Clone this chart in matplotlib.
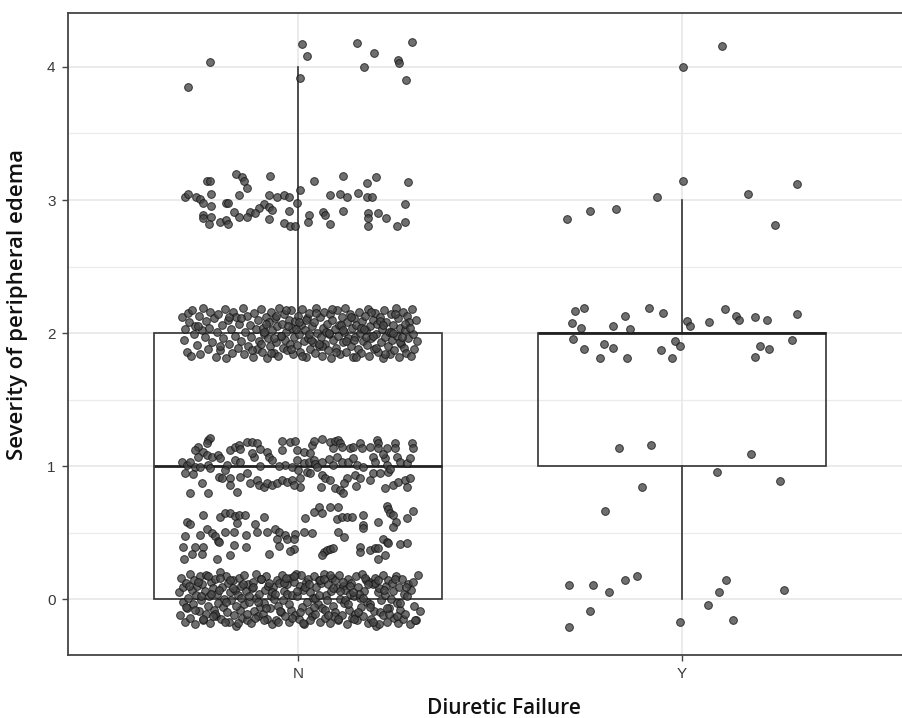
import matplotlib
matplotlib.use("Agg")
import matplotlib.pyplot as plt
import numpy as np

# ---------------- data ----------------
groups = ["N", "Y"]
box_q1 = [0, 1]
box_med = [1, 2]
box_q3 = [2, 2]
whisk_lo = [0, 0]
whisk_hi = [4, 3]
box_width = 0.75

# Group N jittered points (x offset from group centre, y value)
n_x4 = [-0.286, -0.229, 0.010, 0.005, 0.023, 0.154, 0.172, 0.198, 0.260, 0.263, 0.281, 0.297]
n_y4 = [3.852, 4.035, 4.173, 3.917, 4.083, 4.180, 4.000, 4.105, 4.053, 4.030, 3.902, 4.188]

n_x3 = [-0.238, -0.230, -0.161, -0.147, -0.140, -0.134, -0.073, -0.294, -0.288, -0.266, -0.255, -0.227,
        -0.247, -0.227, -0.188, -0.182, -0.153, -0.077, -0.055, -0.038, -0.025, -0.003, 0.005, -0.090,
        -0.103, -0.077, -0.068, -0.125, -0.112, -0.168, -0.155, -0.134, -0.248, -0.247, -0.227, -0.205,
        -0.188, -0.184, -0.232, -0.077, -0.023, -0.038, -0.021, -0.008, 0.027, 0.025, 0.042, 0.064,
        0.070, 0.082, 0.083, 0.108, 0.128, 0.116, 0.116, 0.155, 0.180, 0.203, 0.179, 0.192, 0.183,
        0.183, 0.208, 0.183, 0.228, 0.257, 0.279, 0.279, 0.286]
n_y3 = [3.145, 3.145, 3.199, 3.175, 3.145, 3.090, 3.180, 3.025, 3.043, 3.025, 3.005, 3.045,
        2.975, 2.955, 2.975, 2.975, 3.035, 3.035, 3.020, 3.035, 3.020, 2.975, 3.075, 2.968,
        2.938, 2.945, 2.925, 2.912, 2.900, 2.912, 2.874, 2.870, 2.887, 2.862, 2.874, 2.837,
        2.850, 2.817, 2.820, 2.857, 2.917, 2.829, 2.807, 2.807, 2.887, 2.837, 3.145, 2.912,
        2.887, 2.820, 3.035, 3.045, 3.020, 3.180, 2.917, 3.055, 3.126, 3.171, 3.020, 3.020, 2.900,
        2.862, 2.900, 2.807, 2.862, 2.807, 2.837, 2.968, 3.135]

n_x2 = [-0.302, -0.298, -0.295, -0.291, -0.288,
        -0.284, -0.279, -0.276, -0.272, -0.268,
        -0.263, -0.259, -0.255, -0.251, -0.247,
        -0.244, -0.240, -0.236, -0.232, -0.229,
        -0.224, -0.219, -0.215, -0.212, -0.208,
        -0.204, -0.199, -0.196, -0.192, -0.188,
        -0.184, -0.180, -0.176, -0.173, -0.169,
        -0.165, -0.161, -0.157, -0.153, -0.149,
        -0.145, -0.141, -0.138, -0.134, -0.130,
        -0.126, -0.122, -0.118, -0.114, -0.111, -0.108,
        -0.104, -0.101, -0.097, -0.094, -0.091, -0.088, -0.085, -0.082,
        -0.079, -0.076, -0.073, -0.070, -0.067, -0.064, -0.061, -0.058,
        -0.055, -0.052, -0.049, -0.046, -0.043, -0.040, -0.037, -0.034,
        -0.031, -0.028, -0.025, -0.022, -0.019, -0.016, -0.013, -0.010,
        -0.007, -0.004, -0.001, 0.002, 0.005, 0.008, 0.011, 0.014,
        0.017, 0.020, 0.023, 0.026, 0.029, 0.032, 0.035, 0.038,
        0.041, 0.044, 0.047, 0.050, 0.053, 0.056, 0.059, 0.062,
        0.065, 0.068, 0.071, 0.074, 0.077, 0.080, 0.083, 0.086,
        0.089, 0.092, 0.095, 0.098, 0.101, 0.104, 0.107, 0.110,
        0.113, 0.116, 0.119, 0.122, 0.125, 0.128, 0.131, 0.134,
        0.137, 0.140, 0.143, 0.146, 0.149, 0.152, 0.155, 0.158,
        0.161, 0.164, 0.167, 0.170, 0.173, 0.176, 0.179, 0.182,
        0.185, 0.188, 0.191, 0.194, 0.197, 0.200, 0.203, 0.206,
        0.209, 0.212, 0.215, 0.218, 0.221, 0.224, 0.227, 0.230,
        0.233, 0.236, 0.239, 0.242, 0.245, 0.248, 0.251, 0.254,
        0.257, 0.260, 0.263, 0.266, 0.269, 0.272, 0.275, 0.278,
        0.281, 0.284, 0.287, 0.290, 0.293, 0.296, 0.299, 0.302,
        0.306, 0.310,
        -0.096, -0.083, -0.071, -0.059, -0.044, -0.032, -0.018, -0.006, 0.009, 0.021,
        0.034, 0.046, 0.061, 0.073, 0.087, 0.099, 0.112, 0.124, 0.138, 0.151,
        0.163, 0.176, 0.189, 0.202, 0.214, 0.227, 0.241, 0.253, 0.266, 0.279,
        -0.090, -0.062, -0.027, 0.003, 0.028, 0.055, 0.081, 0.118, 0.145, 0.171,
        0.196, 0.222, 0.247, 0.271, 0.292, -0.150, -0.205, -0.262, -0.120, -0.180]
n_y2 = [2.12, 1.95, 2.03, 1.86, 2.15,
        2.08, 1.83, 2.17, 1.99, 2.05,
        1.91, 2.13, 1.84, 2.02, 2.19,
        1.97, 2.09, 1.88, 2.04, 2.16,
        1.93, 2.11, 1.82, 2.01, 2.14,
        1.87, 2.06, 1.96, 2.18, 1.81,
        2.10, 1.92, 2.03, 1.85, 2.16,
        1.98, 2.12, 1.89, 2.07, 1.94,
        2.19, 1.84, 2.01, 2.13, 1.90,
        2.06, 1.97, 1.82, 2.15, 2.03, 1.88,
        2.10, 1.94, 2.18, 1.86, 2.04, 1.99, 2.12, 1.81,
        1.96, 2.08, 1.90, 2.16, 2.02, 1.85, 2.11, 1.93,
        2.05, 1.83, 2.19, 1.98, 2.07, 1.89, 2.14, 1.95,
        2.01, 1.87, 2.10, 1.92, 2.17, 2.04, 1.84, 1.97,
        2.09, 1.91, 2.13, 1.99, 1.86, 2.06, 2.18, 1.94,
        2.02, 1.82, 2.11, 1.96, 2.15, 1.88, 2.05, 1.93,
        2.08, 1.85, 2.19, 2.00, 1.90, 2.12, 1.97, 1.83,
        2.04, 2.16, 1.92, 2.07, 1.87, 1.99, 2.14, 1.81,
        2.10, 1.95, 2.03, 1.89, 2.17, 1.98, 2.06, 1.84,
        2.12, 1.93, 2.01, 2.19, 1.86, 2.08, 1.96, 2.14,
        1.90, 2.04, 1.82, 2.11, 1.97, 2.06, 1.88, 2.16,
        2.00, 1.85, 2.09, 1.94, 2.13, 2.02, 1.91, 2.18,
        1.83, 2.05, 1.96, 2.10, 1.88, 2.15, 1.99, 2.07,
        1.86, 2.12, 1.93, 2.03, 1.81, 2.17, 1.97, 2.08,
        1.90, 2.01, 1.84, 2.14, 1.95, 2.06, 1.87, 2.19,
        1.98, 2.11, 1.82, 2.04, 1.92, 2.16, 1.89, 2.02,
        1.85, 2.13, 1.96, 2.08, 1.83, 2.18, 1.99, 1.88,
        2.10, 1.94,
        1.92, 2.07, 1.85, 2.13, 1.98, 2.17, 1.88, 2.03, 1.83, 2.10,
        1.95, 2.15, 1.90, 2.01, 2.18, 1.86, 2.06, 1.94, 2.12, 1.82,
        2.04, 1.97, 2.16, 1.89, 2.09, 1.84, 2.01, 2.14, 1.93, 2.07,
        2.01, 1.96, 2.05, 2.08, 1.99, 1.92, 2.00, 2.02, 1.95, 2.03,
        1.98, 2.06, 2.00, 1.97, 2.04, 2.11, 1.90, 2.05, 1.87, 2.12]

n_x1 = [-0.234, -0.229, -0.238, -0.260, -0.268, -0.247, -0.238, -0.225, -0.210, -0.177, -0.164, -0.155,
        -0.151, -0.134, -0.121, -0.108, -0.099, -0.082, -0.043, -0.043, -0.021, -0.008, -0.003, 0.014,
        0.036, 0.040, 0.062, 0.083, 0.096, 0.105, 0.109, 0.114, 0.092, 0.134, 0.144, 0.161, 0.166,
        0.188, 0.205, 0.207, 0.209, 0.231, 0.253, 0.253, 0.296, 0.300,
        -0.303, -0.290, -0.281, -0.268, -0.255, -0.234, -0.229, -0.203, -0.186, -0.164, -0.151, -0.116,
        -0.077, -0.069, -0.034, -0.016, -0.003, 0.014, 0.027, 0.040, 0.044, 0.062, 0.092, 0.101, 0.114,
        0.131, 0.144, 0.153, 0.196, 0.201, 0.227, 0.231, 0.257, 0.266, 0.283, 0.292,
        -0.294, -0.273, -0.251, -0.281, -0.234, -0.207, -0.199, -0.177, -0.179, -0.160, -0.151, -0.134,
        -0.125, -0.108, -0.103, -0.090, -0.082, -0.069, -0.056, -0.043, -0.030, -0.016, 0.005, 0.005,
        0.023, 0.031, 0.062, 0.070, 0.083, 0.096, 0.109, 0.118, 0.127, 0.148, 0.161, 0.188, 0.196,
        0.214, 0.235, 0.227, 0.248, 0.261, 0.279, 0.283, 0.292,
        -0.05, 0.00, 0.05, 0.08, -0.10, 0.17, 0.22, -0.26, 0.12, -0.01, 0.06, 0.15, -0.12, 0.03, 0.24, -0.19]
n_y1 = [1.195, 1.208, 1.170, 1.145, 1.120, 1.108, 1.083, 1.070, 1.083, 1.120, 1.145, 1.158,
        1.128, 1.178, 1.178, 1.170, 1.128, 1.108, 1.188, 1.120, 1.178, 1.188, 1.120, 1.108,
        1.158, 1.188, 1.203, 1.178, 1.188, 1.195, 1.170, 1.145, 1.138, 1.133, 1.145, 1.170, 1.133,
        1.145, 1.195, 1.170, 1.133, 1.133, 1.170, 1.133, 1.170, 1.133,
        1.033, 1.008, 1.033, 0.995, 0.995, 1.008, 0.982, 1.058, 1.008, 1.045, 1.033, 1.070,
        1.070, 1.045, 1.008, 0.995, 1.045, 1.020, 1.033, 1.045, 1.013, 1.033, 1.008, 1.070, 1.033,
        1.033, 1.058, 1.008, 1.070, 1.033, 1.058, 1.008, 1.070, 1.033, 1.020, 1.058,
        0.945, 0.937, 0.870, 0.794, 0.794, 0.920, 0.907, 0.907, 0.857, 0.807, 0.920, 0.945,
        0.870, 0.895, 0.857, 0.845, 0.870, 0.857, 0.870, 0.895, 0.882, 0.895, 0.907, 0.845,
        0.957, 0.945, 0.932, 0.907, 0.895, 0.832, 0.820, 0.794, 0.907, 0.932, 0.907, 0.895, 0.945,
        0.945, 0.957, 0.832, 0.857, 0.882, 0.895, 0.845, 0.907,
        1.00, 0.97, 0.99, 1.05, 1.00, 0.99, 1.09, 1.07, 0.87, 0.86, 0.84, 0.85, 1.10, 1.10, 0.98, 0.97]

n_xh = [-0.290, -0.281, -0.247, -0.203, -0.190, -0.177, -0.164, -0.155, -0.138, -0.160,
        -0.090, -0.112, -0.108, -0.238, -0.225, -0.216, -0.255, -0.294, -0.190, -0.168,
        -0.210, -0.206, -0.135, -0.082, -0.060, -0.051, -0.034, -0.008, 0.014, 0.037,
        -0.055, -0.051, -0.029, -0.010, -0.012, -0.021, 0.018, 0.040, 0.053, 0.062,
        0.083, 0.105, 0.101, 0.114, 0.127, 0.140, 0.105, 0.120, 0.170, 0.168,
        0.168, 0.209, 0.231, 0.235, 0.240, 0.248, 0.255, 0.248, 0.283, 0.299,
        0.222, 0.231, 0.235, 0.266, 0.283, 0.161, 0.161, 0.188, 0.201, 0.209,
        0.227, 0.209, -0.299, -0.268, -0.247, -0.251, -0.277, -0.297, -0.212, -0.177,
        -0.166, -0.135, -0.077, 0.066, 0.075, 0.083, 0.092, 0.062]
n_yh = [0.581, 0.564, 0.632, 0.614, 0.644, 0.649, 0.624, 0.632, 0.632, 0.569,
        0.619, 0.564, 0.506, 0.524, 0.494, 0.474, 0.481, 0.474, 0.506, 0.506,
        0.438, 0.426, 0.481, 0.502, 0.524, 0.502, 0.481, 0.489, 0.506, 0.494,
        0.449, 0.398, 0.449, 0.449, 0.374, 0.361, 0.607, 0.656, 0.689, 0.644,
        0.694, 0.694, 0.599, 0.619, 0.619, 0.619, 0.506, 0.464, 0.632, 0.556,
        0.532, 0.581, 0.699, 0.674, 0.649, 0.632, 0.581, 0.544, 0.607, 0.662,
        0.449, 0.431, 0.419, 0.411, 0.419, 0.393, 0.356, 0.368, 0.381, 0.381,
        0.331, 0.298, 0.393, 0.393, 0.393, 0.338, 0.338, 0.298, 0.298, 0.331,
        0.406, 0.393, 0.338, 0.356, 0.368, 0.374, 0.381, 0.331]

n_x0 = [-0.310, -0.307, -0.305, -0.301, -0.299, -0.296, -0.292, -0.290, -0.287, -0.283,
        -0.281, -0.278, -0.275, -0.272, -0.268, -0.266, -0.263, -0.259, -0.257, -0.254,
        -0.250, -0.248, -0.244, -0.241, -0.239, -0.235, -0.232, -0.230, -0.226, -0.223,
        -0.220, -0.217, -0.214, -0.211, -0.208, -0.204, -0.202, -0.198, -0.195, -0.193,
        -0.189, -0.186, -0.183, -0.180, -0.177, -0.174, -0.171, -0.167, -0.165, -0.161,
        -0.158, -0.155, -0.152, -0.149, -0.146, -0.142, -0.140, -0.136, -0.133, -0.131,
        -0.127, -0.124, -0.121, -0.118, -0.115, -0.111, -0.109, -0.105, -0.102, -0.100,
        -0.096, -0.093, -0.090, -0.087, -0.084, -0.080, -0.078, -0.074, -0.071, -0.068,
        -0.065, -0.062, -0.059, -0.055, -0.053, -0.049, -0.046, -0.043, -0.040, -0.037,
        -0.034, -0.030, -0.028, -0.024, -0.021, -0.018, -0.015, -0.012, -0.009, -0.005,
        -0.003, 0.001, 0.004, 0.007, 0.010, 0.013, 0.016, 0.020, 0.022, 0.026,
        0.029, 0.032, 0.035, 0.038, 0.041, 0.045, 0.047, 0.051, 0.054, 0.057,
        0.060, 0.063, 0.066, 0.070, 0.072, 0.076, 0.079, 0.082, 0.085, 0.088,
        0.091, 0.095, 0.097, 0.101, 0.104, 0.107, 0.110, 0.113, 0.116, 0.120,
        0.122, 0.126, 0.129, 0.132, 0.135, 0.138, 0.141, 0.145, 0.147, 0.151,
        0.154, 0.157, 0.160, 0.163, 0.166, 0.170, 0.172, 0.176, 0.179, 0.182,
        0.185, 0.188, 0.191, 0.195, 0.197, 0.201, 0.204, 0.207, 0.210, 0.213,
        0.216, 0.220, 0.222, 0.226, 0.229, 0.232, 0.235, 0.238, 0.241, 0.245,
        0.247, 0.251, 0.254, 0.257, 0.260, 0.263, 0.266, 0.270, 0.272, 0.276,
        0.279, 0.283, 0.287, 0.291, 0.295, 0.299, 0.303, 0.307, 0.312, 0.318,
        -0.293, -0.262, -0.247, -0.228, -0.216, -0.203, -0.188, -0.171, -0.157, -0.143,
        -0.129, -0.112, -0.098, -0.083, -0.069, -0.052, -0.038, -0.023, -0.011, 0.006,
        0.018, 0.031, 0.044, 0.058, 0.069, 0.083, 0.094, 0.108, 0.121, 0.134,
        0.146, 0.159, 0.173, 0.186, 0.199, 0.211, 0.224, 0.238, 0.252, 0.266,
        -0.285, -0.270, -0.253, -0.236, -0.221, -0.207, -0.192, -0.178, -0.162, -0.148,
        -0.134, -0.119, -0.104, -0.089, -0.075, -0.061, -0.047, -0.032, -0.017, -0.002,
        0.012, 0.027, 0.040, 0.053, 0.066, 0.079, 0.092, 0.105, 0.118, 0.131,
        0.144, 0.157, 0.170, 0.183, 0.196, 0.209, 0.231, 0.257, 0.281, 0.305]
n_y0 = [0.05, -0.12, 0.16, -0.02, 0.09, -0.17, 0.12, -0.07, 0.01, 0.19,
        -0.14, 0.07, -0.04, 0.14, -0.19, 0.03, 0.10, -0.09, 0.17, -0.01,
        0.11, -0.16, 0.06, -0.11, 0.18, -0.05, 0.02, -0.18, 0.13, 0.08,
        -0.08, 0.15, -0.13, 0.04, -0.03, 0.20, -0.15, 0.09, -0.06, 0.00,
        0.17, -0.10, 0.12, -0.17, 0.05, -0.01, 0.14, -0.12, 0.07, -0.20,
        0.03, 0.16, -0.08, 0.10, -0.14, 0.18, -0.04, 0.06, -0.16, 0.11,
        -0.02, -0.18, 0.08, 0.13, -0.09, 0.01, 0.19, -0.13, 0.04, -0.06,
        0.15, -0.11, -0.03, 0.07, 0.17, -0.15, 0.10, -0.07, 0.02, -0.19,
        0.09, 0.00, -0.16, 0.14, -0.05, 0.12, -0.10, 0.18, -0.01, 0.06,
        -0.13, 0.11, 0.04, -0.17, 0.16, -0.08, 0.03, 0.13, -0.12, 0.19,
        0.02, -0.15, 0.10, 0.18, -0.06, 0.07, -0.19, 0.13, -0.02, 0.15,
        -0.09, 0.05, -0.13, 0.01, 0.17, -0.11, 0.09, -0.04, 0.14, -0.17,
        0.12, -0.07, 0.19, -0.14, 0.03, -0.01, 0.11, -0.18, 0.06, 0.16,
        -0.05, 0.14, -0.10, 0.08, -0.16, 0.18, 0.00, -0.12, 0.10, -0.03,
        0.07, -0.19, 0.15, -0.08, 0.04, 0.12, -0.14, 0.02, -0.11, 0.17,
        -0.16, 0.09, 0.01, -0.06, 0.19, -0.13, 0.06, 0.14, -0.02, -0.18,
        0.13, -0.04, -0.15, 0.11, -0.09, 0.16, -0.20, 0.05, 0.08, -0.10,
        -0.01, 0.18, -0.12, 0.03, 0.10, -0.17, 0.14, -0.07, 0.00, 0.12,
        0.06, -0.14, 0.17, -0.03, -0.18, 0.09, -0.08, 0.15, -0.15, 0.04,
        -0.11, 0.02, 0.11, -0.19, 0.07, 0.13, -0.05, -0.16, 0.18, -0.09,
        -0.06, 0.13, -0.15, 0.04, -0.11, 0.16, -0.02, 0.08, -0.18, 0.11,
        0.02, -0.14, 0.15, -0.07, 0.05, -0.17, 0.12, -0.04, 0.17, -0.10,
        0.09, -0.16, 0.01, 0.14, -0.08, 0.18, -0.13, 0.06, -0.01, 0.10,
        -0.15, 0.04, 0.16, -0.06, 0.12, -0.19, 0.07, -0.11, 0.15, -0.03,
        0.10, -0.08, 0.02, 0.17, -0.13, 0.07, -0.17, 0.14, -0.05, 0.01,
        -0.11, 0.09, -0.02, -0.16, 0.12, 0.04, -0.09, 0.16, -0.14, 0.06,
        -0.18, 0.11, -0.06, 0.03, 0.15, -0.12, 0.08, -0.15, 0.13, -0.04,
        0.05, -0.10, 0.01, 0.11, -0.17, 0.14, -0.07, -0.13, 0.09, -0.16]

# Group Y jittered points
y_x = [-0.299, -0.240, -0.172, -0.065, 0.002, 0.172, 0.299, 0.243, -0.279, -0.254, -0.287, -0.263,
       -0.283, -0.255, -0.212, -0.203, -0.180, -0.179, -0.148, -0.136, -0.144, -0.085, -0.049, -0.054,
       -0.025, -0.018, -0.005, 0.014, 0.022, 0.070, 0.113, 0.141, 0.148, 0.192, 0.223, 0.203, 0.227,
       0.192, 0.287, 0.299, -0.164, -0.081, 0.180, -0.105, -0.200, 0.093, 0.255, 0.105, 0.003,
       -0.294, -0.231, -0.191, -0.148, -0.116, -0.239, -0.294, -0.006, 0.068, 0.097, 0.115, 0.133, 0.267]
y_y = [2.859, 2.917, 2.930, 3.020, 3.145, 3.043, 3.123, 2.814, 2.165, 2.188, 2.075, 2.040,
       1.957, 1.880, 1.810, 1.915, 2.053, 1.889, 2.130, 2.028, 1.810, 2.188, 2.153, 1.870,
       1.810, 1.938, 1.902, 2.088, 2.050, 2.085, 2.178, 2.130, 2.095, 2.118, 2.095, 1.905, 1.880,
       1.822, 1.947, 2.143, 1.138, 1.160, 1.092, 0.842, 0.662, 0.955, 0.887, 4.160, 4.002,
       0.103, 0.103, 0.055, 0.145, 0.171, -0.092, -0.208, -0.173, -0.047, 0.055, 0.145, -0.160, 0.065]

y_ticks = [0, 1, 2, 3, 4]
x_title = "Diuretic Failure"
y_title = "Severity of peripheral edema"

# ---------------- figure ----------------
W, H = 902, 718
fig = plt.figure(figsize=(W / 100, H / 100), dpi=100)
fig.patch.set_facecolor("white")
left_px, right_px, top_px, bottom_px = 68, 912, 13, 655
ax = fig.add_axes([left_px / W, 1 - bottom_px / H, (right_px - left_px) / W, (bottom_px - top_px) / H])
ax.set_facecolor("white")

ax.set_xlim(0.4, 2.6)
ax.set_ylim(-0.421, 4.406)

# grid
for v in [0.5, 1.5, 2.5, 3.5]:
    ax.axhline(v, color="#ebebeb", lw=0.9, zorder=0)
for v in y_ticks:
    ax.axhline(v, color="#e6e6e6", lw=1.1, zorder=0)
for i in range(len(groups)):
    ax.axvline(i + 1, color="#e6e6e6", lw=1.1, zorder=0)

# boxes
stats = []
for i, g in enumerate(groups):
    stats.append(dict(label=g, q1=box_q1[i], med=box_med[i], q3=box_q3[i],
                      whislo=whisk_lo[i], whishi=whisk_hi[i], fliers=[]))
line_col = "#333333"
ax.bxp(stats, positions=[1, 2], widths=box_width, showfliers=False, showcaps=False,
       patch_artist=True,
       boxprops=dict(facecolor="none", edgecolor=line_col, linewidth=1.2),
       whiskerprops=dict(color=line_col, linewidth=1.2),
       medianprops=dict(color="#222222", linewidth=2.0),
       zorder=2)

# points
pt = dict(s=31, facecolor="#474747", edgecolor="#111111", linewidths=0.7, alpha=0.78, zorder=3)
nx = np.concatenate([n_x4, n_x3, n_x2, n_x1, n_xh, n_x0]) + 1
ny = np.concatenate([n_y4, n_y3, n_y2, n_y1, n_yh, n_y0])
ax.scatter(nx, ny, **pt)
ax.scatter(np.array(y_x) + 2, y_y, **pt)

# axes styling
for side in ["left", "bottom", "top", "right"]:
    ax.spines[side].set_color("#444444")
    ax.spines[side].set_linewidth(1.3)
ax.set_xticks([1, 2])
ax.set_xticklabels(groups)
ax.set_yticks(y_ticks)
ax.set_yticklabels([str(t) for t in y_ticks])
ax.tick_params(axis="both", colors="#444444", length=4, width=1.0, labelsize=11,
               labelcolor="#3a3a3a", pad=5)
for lab in ax.get_xticklabels() + ax.get_yticklabels():
    lab.set_fontfamily("Liberation Sans")

fig.text(504 / W, 1 - 708 / H, x_title, ha="center", va="center", fontsize=15,
         fontweight="semibold", family="Open Sans", color="#111111")
fig.text(18 / W, 1 - 305 / H, y_title, ha="center", va="center", rotation=90, fontsize=16,
         fontweight="semibold", family="Open Sans", color="#111111")

fig.savefig("out.png", dpi=100, facecolor="white")
